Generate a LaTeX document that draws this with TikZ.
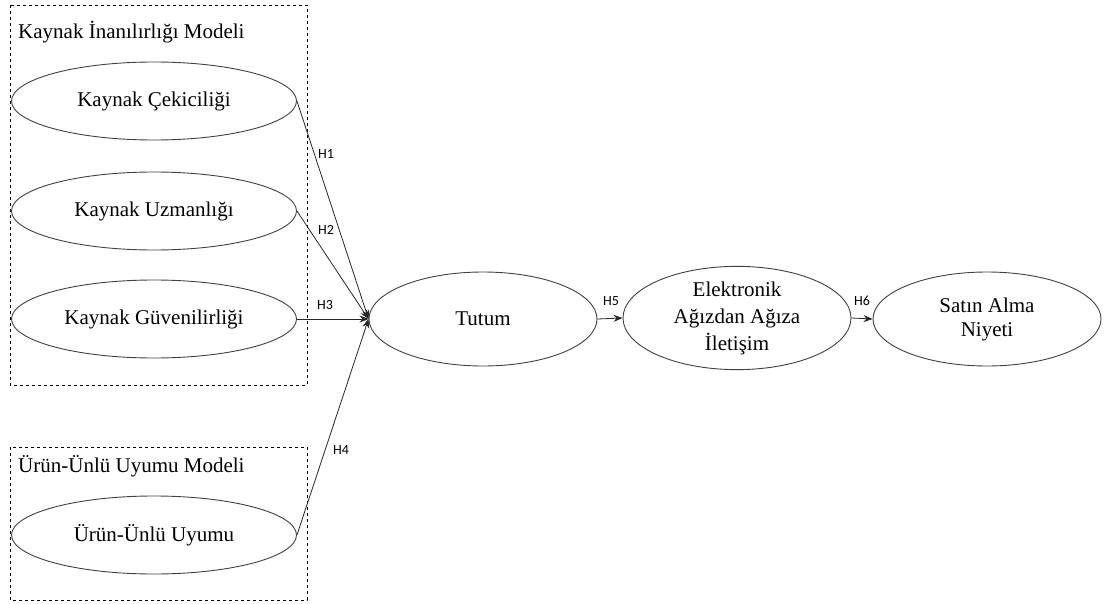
\documentclass[tikz,border=0pt]{standalone}
\usepackage{fontspec}
\setmainfont{Liberation Serif}
\newfontfamily\hlabel{Carlito}
\usetikzlibrary{shapes.geometric,arrows.meta}
\begin{document}
\begin{tikzpicture}[x=1pt,y=-1pt,
  construct/.style={ellipse,draw=black!75,line width=0.9pt,inner sep=0pt,
    font=\fontsize{21}{24}\selectfont,align=center},
  small/.style={construct,minimum width=285pt,minimum height=78pt},
  big/.style={construct,minimum width=228pt,minimum height=94pt},
  groupbox/.style={draw,dashed,line width=0.7pt},
  grouptitle/.style={anchor=west,font=\fontsize{21}{24}\selectfont,inner sep=0pt},
  path/.style={draw=black!85,line width=0.8pt,-{Stealth[length=9pt,width=7pt]}},
  hyp/.style={font=\hlabel\fontsize{14}{16}\selectfont,inner sep=1pt}]
\useasboundingbox (0,0) rectangle (1105,604);

% model groups
\draw[groupbox] (10,5) rectangle (307,385);
\draw[groupbox] (10,447) rectangle (307,600);
\node[grouptitle] (t1) at (18,32) {Kaynak İnanılırlığı Modeli};
\node[grouptitle] (t2) at (18,466) {Ürün-Ünlü Uyumu Modeli};

% constructs
\node[small] (cek) at (154,101) {Kaynak Çekiciliği};
\node[small] (uzm) at (154,211) {Kaynak Uzmanlığı};
\node[small] (guv) at (154,319) {Kaynak Güvenilirliği};
\node[small] (uyu) at (154,535) {Ürün-Ünlü Uyumu};
\node[big] (tut) at (483,319) {Tutum};
\node[big,font=\fontsize{21}{27}\selectfont] (ewom) at (737,318) {Elektronik\\Ağızdan Ağıza\\İletişim};
\node[big] (sat) at (987,319) {Satın Alma\\Niyeti};

% hypothesised paths
\draw[path] (cek.east) -- (tut.west);
\draw[path] (uzm.east) -- (tut.west);
\draw[path] (guv.east) -- (tut.west);
\draw[path] (uyu.east) -- (tut.west);
\draw[path] (tut.east) -- (ewom.west);
\draw[path] (ewom.east) -- (sat.west);

% path labels
\node[hyp] (h1) at (326,154) {H1};
\node[hyp] (h2) at (326,230) {H2};
\node[hyp] (h3) at (325,305) {H3};
\node[hyp] (h4) at (341,450) {H4};
\node[hyp] (h5) at (611,301) {H5};
\node[hyp] (h6) at (862,301) {H6};
\end{tikzpicture}
\end{document}
